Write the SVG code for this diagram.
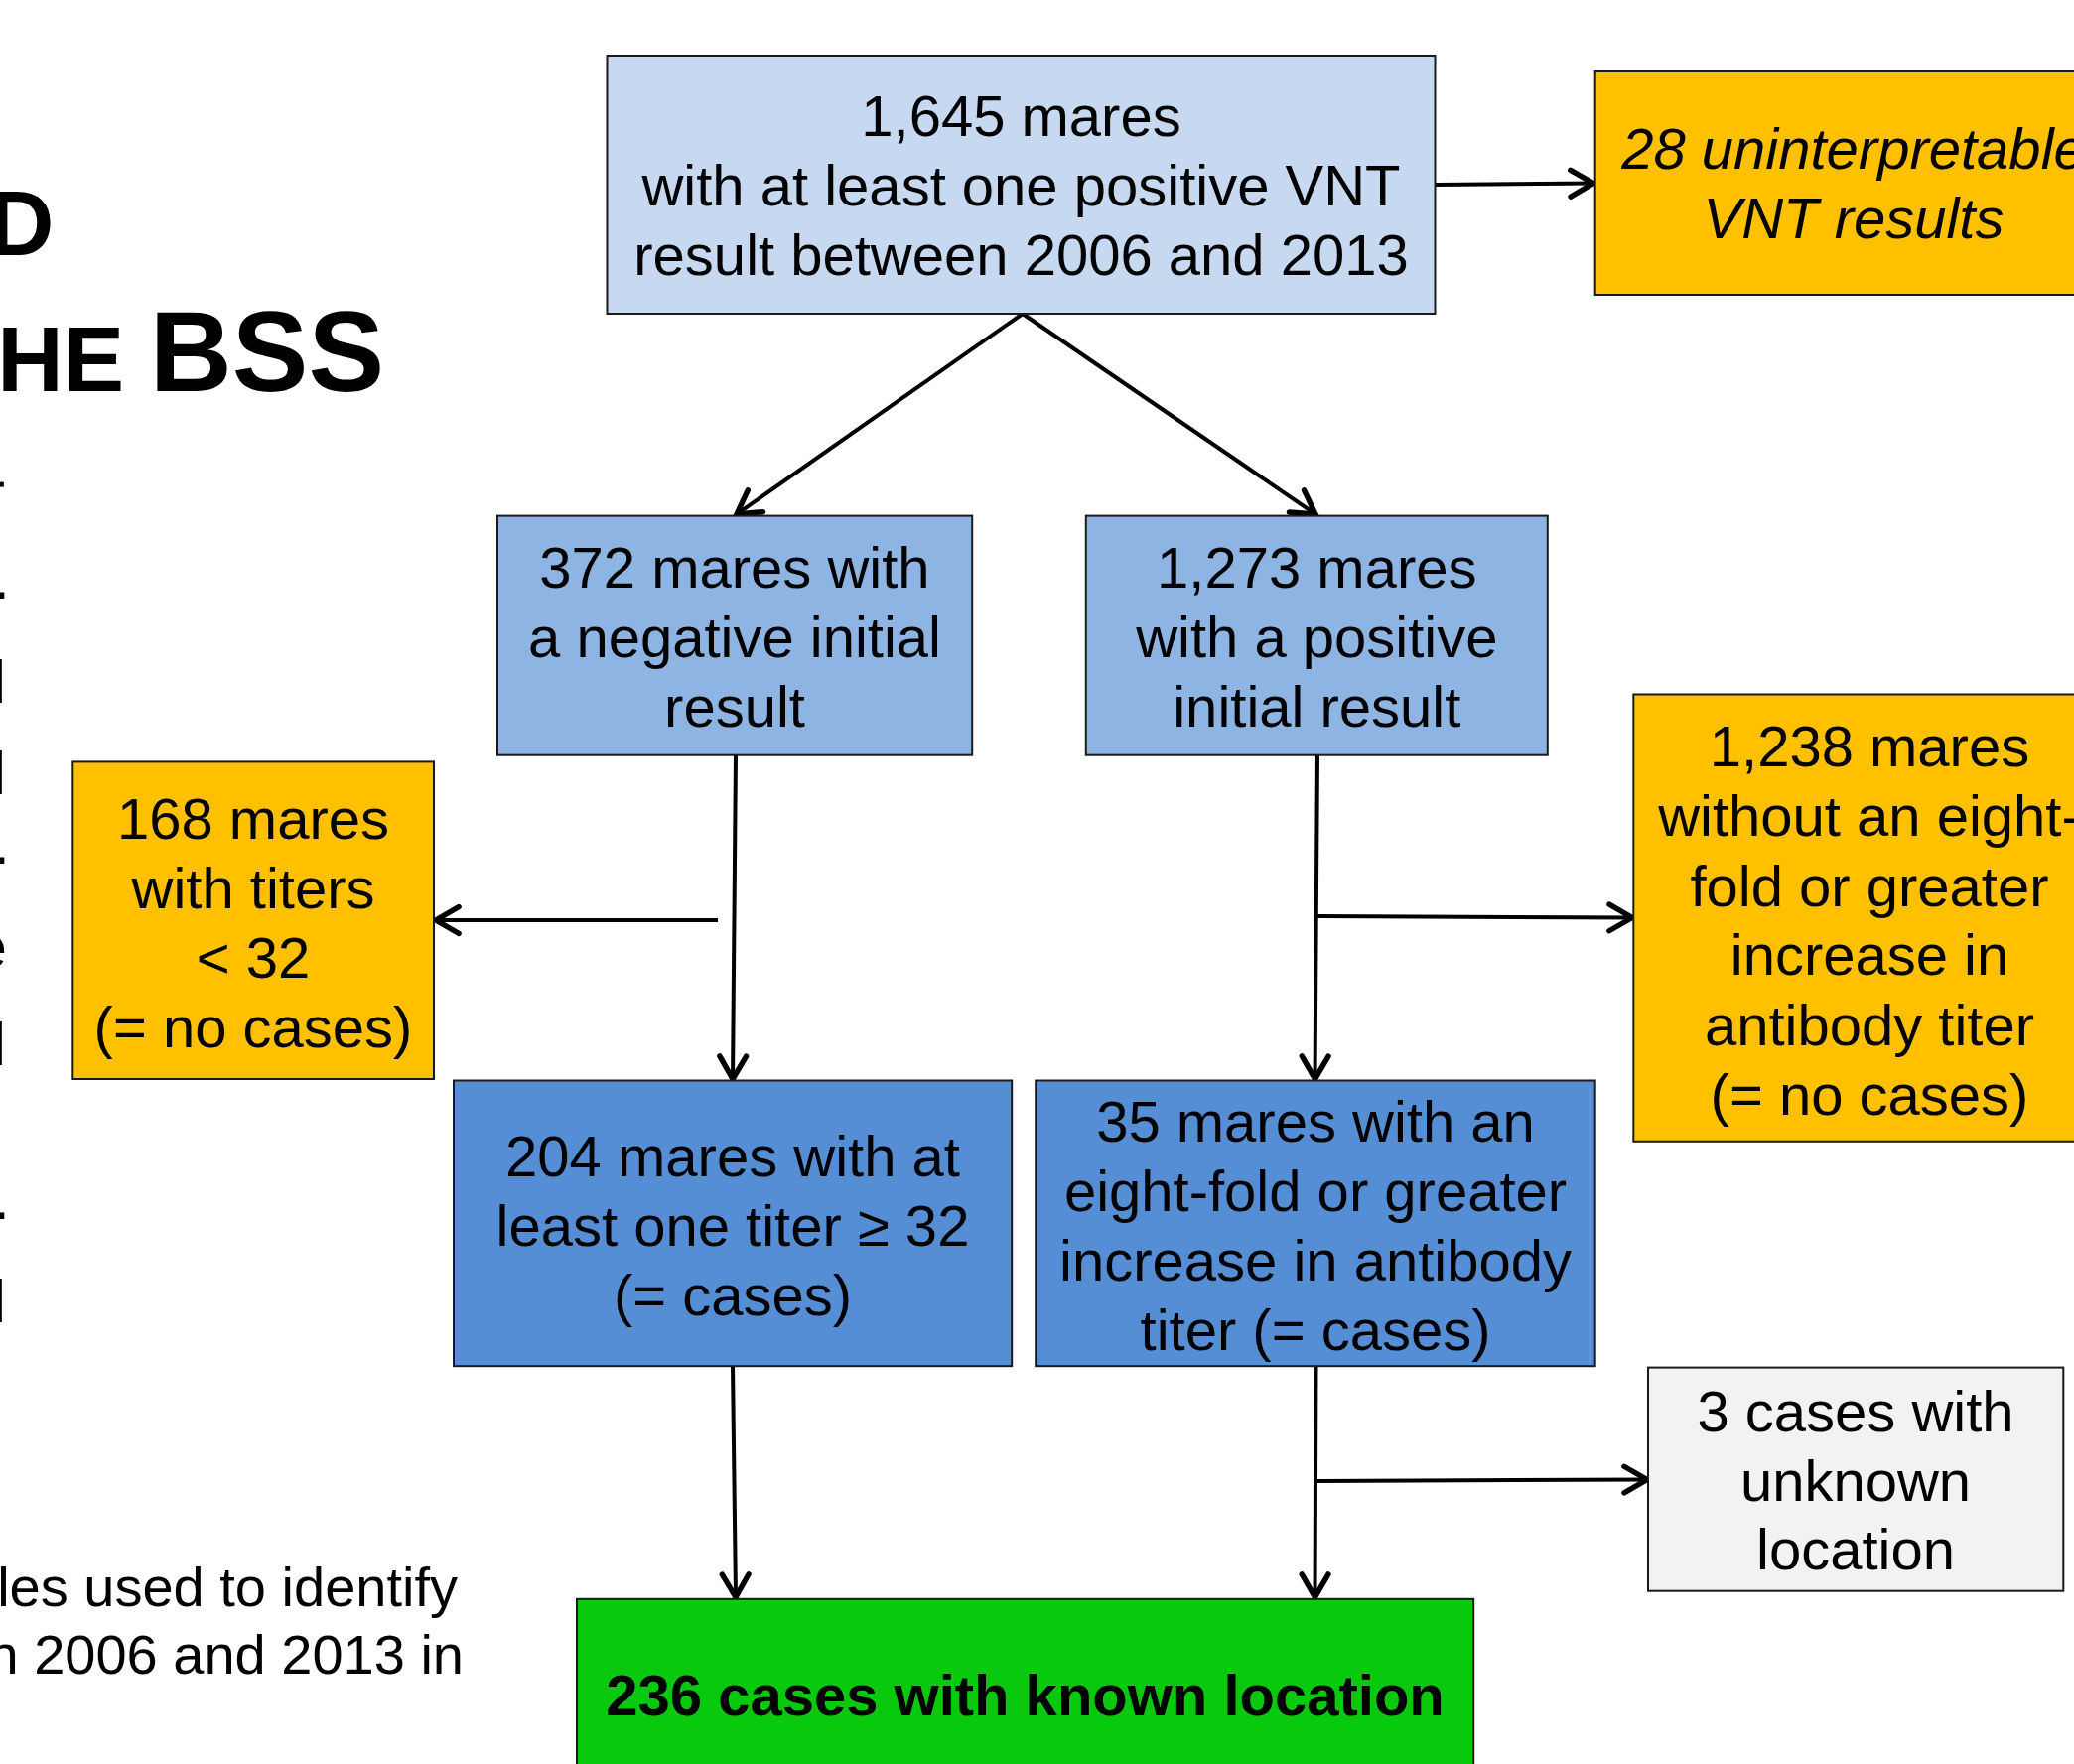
<svg xmlns="http://www.w3.org/2000/svg" width="2089" height="1777" viewBox="0 0 2089 1777">
<defs>
<style>
text{font-family:"Liberation Sans",Arial,sans-serif;fill:#000}
.t{font-size:58px;text-anchor:middle}
.box{stroke:#1a1a1a;stroke-width:2}
.c{stroke:#000;stroke-width:4;fill:none}
.frag{font-size:62px;text-anchor:end}
</style>
<marker id="ah" markerUnits="userSpaceOnUse" markerWidth="34" markerHeight="34" viewBox="-24 -14 28 28" refX="0" refY="0" orient="auto">
<path d="M-19,-11 L0,0 L-19,11" fill="none" stroke="#000" stroke-width="4.5" stroke-linecap="round" stroke-linejoin="miter"/>
</marker>
</defs>
<rect width="2089" height="1777" fill="#fff"/>
<g id="background-text">
<text x="54.5" y="257" font-weight="bold" font-size="92" text-anchor="end">D</text>
<text x="-2.7" y="394" font-weight="bold" font-size="92">HE <tspan font-size="115">BSS</tspan></text>
<text class="frag" x="5" y="518">r</text>
<text class="frag" x="10" y="603">.</text>
<text class="frag" x="6" y="708">l</text>
<text class="frag" x="6" y="800">l</text>
<text class="frag" x="10" y="870">.</text>
<text class="frag" x="7" y="975">e</text>
<text class="frag" x="6" y="1073">l</text>
<text class="frag" x="10" y="1228">.</text>
<text class="frag" x="6" y="1332">l</text>
<text x="461" y="1618" font-size="56" text-anchor="end">les used to identify</text>
<text x="467" y="1686" font-size="56" text-anchor="end">n 2006 and 2013 in</text>
</g>
<g id="connectors">
<line class="c" x1="1446" y1="186" x2="1605" y2="184.5" marker-end="url(#ah)"/>
<line class="c" x1="1030" y1="316" x2="742" y2="518" marker-end="url(#ah)"/>
<line class="c" x1="1030" y1="316" x2="1325" y2="518" marker-end="url(#ah)"/>
<line class="c" x1="741" y1="761" x2="738" y2="1087" marker-end="url(#ah)"/>
<line class="c" x1="723" y1="927" x2="439" y2="927" marker-end="url(#ah)"/>
<line class="c" x1="1327" y1="761" x2="1324.5" y2="1087" marker-end="url(#ah)"/>
<line class="c" x1="1327" y1="923" x2="1644" y2="924.5" marker-end="url(#ah)"/>
<line class="c" x1="738" y1="1376" x2="741" y2="1609" marker-end="url(#ah)"/>
<line class="c" x1="1325.5" y1="1376" x2="1324.5" y2="1609" marker-end="url(#ah)"/>
<line class="c" x1="1327" y1="1492" x2="1659" y2="1490.5" marker-end="url(#ah)"/>
</g>
<g id="n-top">
<rect class="box" x="611.5" y="56" width="834" height="260" fill="#C6D9F1"/>
<text class="t" x="1028.5" y="137">1,645 mares</text>
<text class="t" x="1028.5" y="207">with at least one positive VNT</text>
<text class="t" x="1028.5" y="277">result between 2006 and 2013</text>
</g>
<g id="n-uninterpretable">
<rect class="box" x="1606.7" y="72" width="530" height="225" fill="#FFC000"/>
<text class="t" x="1867" y="170" font-style="italic">28 uninterpretable</text>
<text class="t" x="1867" y="240" font-style="italic">VNT results</text>
</g>
<g id="n-negative">
<rect class="box" x="501" y="519.6" width="478.2" height="241.1" fill="#8EB4E3"/>
<text class="t" x="740" y="592">372 mares with</text>
<text class="t" x="740" y="662">a negative initial</text>
<text class="t" x="740" y="732">result</text>
</g>
<g id="n-positive">
<rect class="box" x="1093.8" y="519.6" width="465" height="241.1" fill="#8EB4E3"/>
<text class="t" x="1326.3" y="592">1,273 mares</text>
<text class="t" x="1326.3" y="662">with a positive</text>
<text class="t" x="1326.3" y="732">initial result</text>
</g>
<g id="n-no-cases-left">
<rect class="box" x="73.3" y="767.4" width="363.7" height="319.6" fill="#FFC000"/>
<text class="t" x="255" y="845">168 mares</text>
<text class="t" x="255" y="915">with titers</text>
<text class="t" x="255" y="985">&lt; 32</text>
<text class="t" x="255" y="1055">(= no cases)</text>
</g>
<g id="n-no-cases-right">
<rect class="box" x="1645.3" y="699.5" width="480" height="450.3" fill="#FFC000"/>
<text class="t" x="1883" y="772">1,238 mares</text>
<text class="t" x="1883" y="842">without an eight-</text>
<text class="t" x="1883" y="913">fold or greater</text>
<text class="t" x="1883" y="982">increase in</text>
<text class="t" x="1883" y="1053">antibody titer</text>
<text class="t" x="1883" y="1123">(= no cases)</text>
</g>
<g id="n-cases-left">
<rect class="box" x="457" y="1088.5" width="562.2" height="287.7" fill="#558ED5"/>
<text class="t" x="738" y="1185">204 mares with at</text>
<text class="t" x="738" y="1255">least one titer ≥ 32</text>
<text class="t" x="738" y="1325">(= cases)</text>
</g>
<g id="n-cases-right">
<rect class="box" x="1043.2" y="1088.5" width="563.5" height="287.7" fill="#558ED5"/>
<text class="t" x="1325" y="1150">35 mares with an</text>
<text class="t" x="1325" y="1220">eight-fold or greater</text>
<text class="t" x="1325" y="1290">increase in antibody</text>
<text class="t" x="1325" y="1360">titer (= cases)</text>
</g>
<g id="n-unknown">
<rect class="box" x="1660" y="1377.6" width="418.3" height="225.1" fill="#F2F2F2"/>
<text class="t" x="1869" y="1442">3 cases with</text>
<text class="t" x="1869" y="1512">unknown</text>
<text class="t" x="1869" y="1581">location</text>
</g>
<g id="n-known">
<rect class="box" x="581" y="1610.8" width="903.2" height="200" fill="#09C90F"/>
<text class="t" x="1032.5" y="1728" font-weight="bold">236 cases with known location</text>
</g>
</svg>
